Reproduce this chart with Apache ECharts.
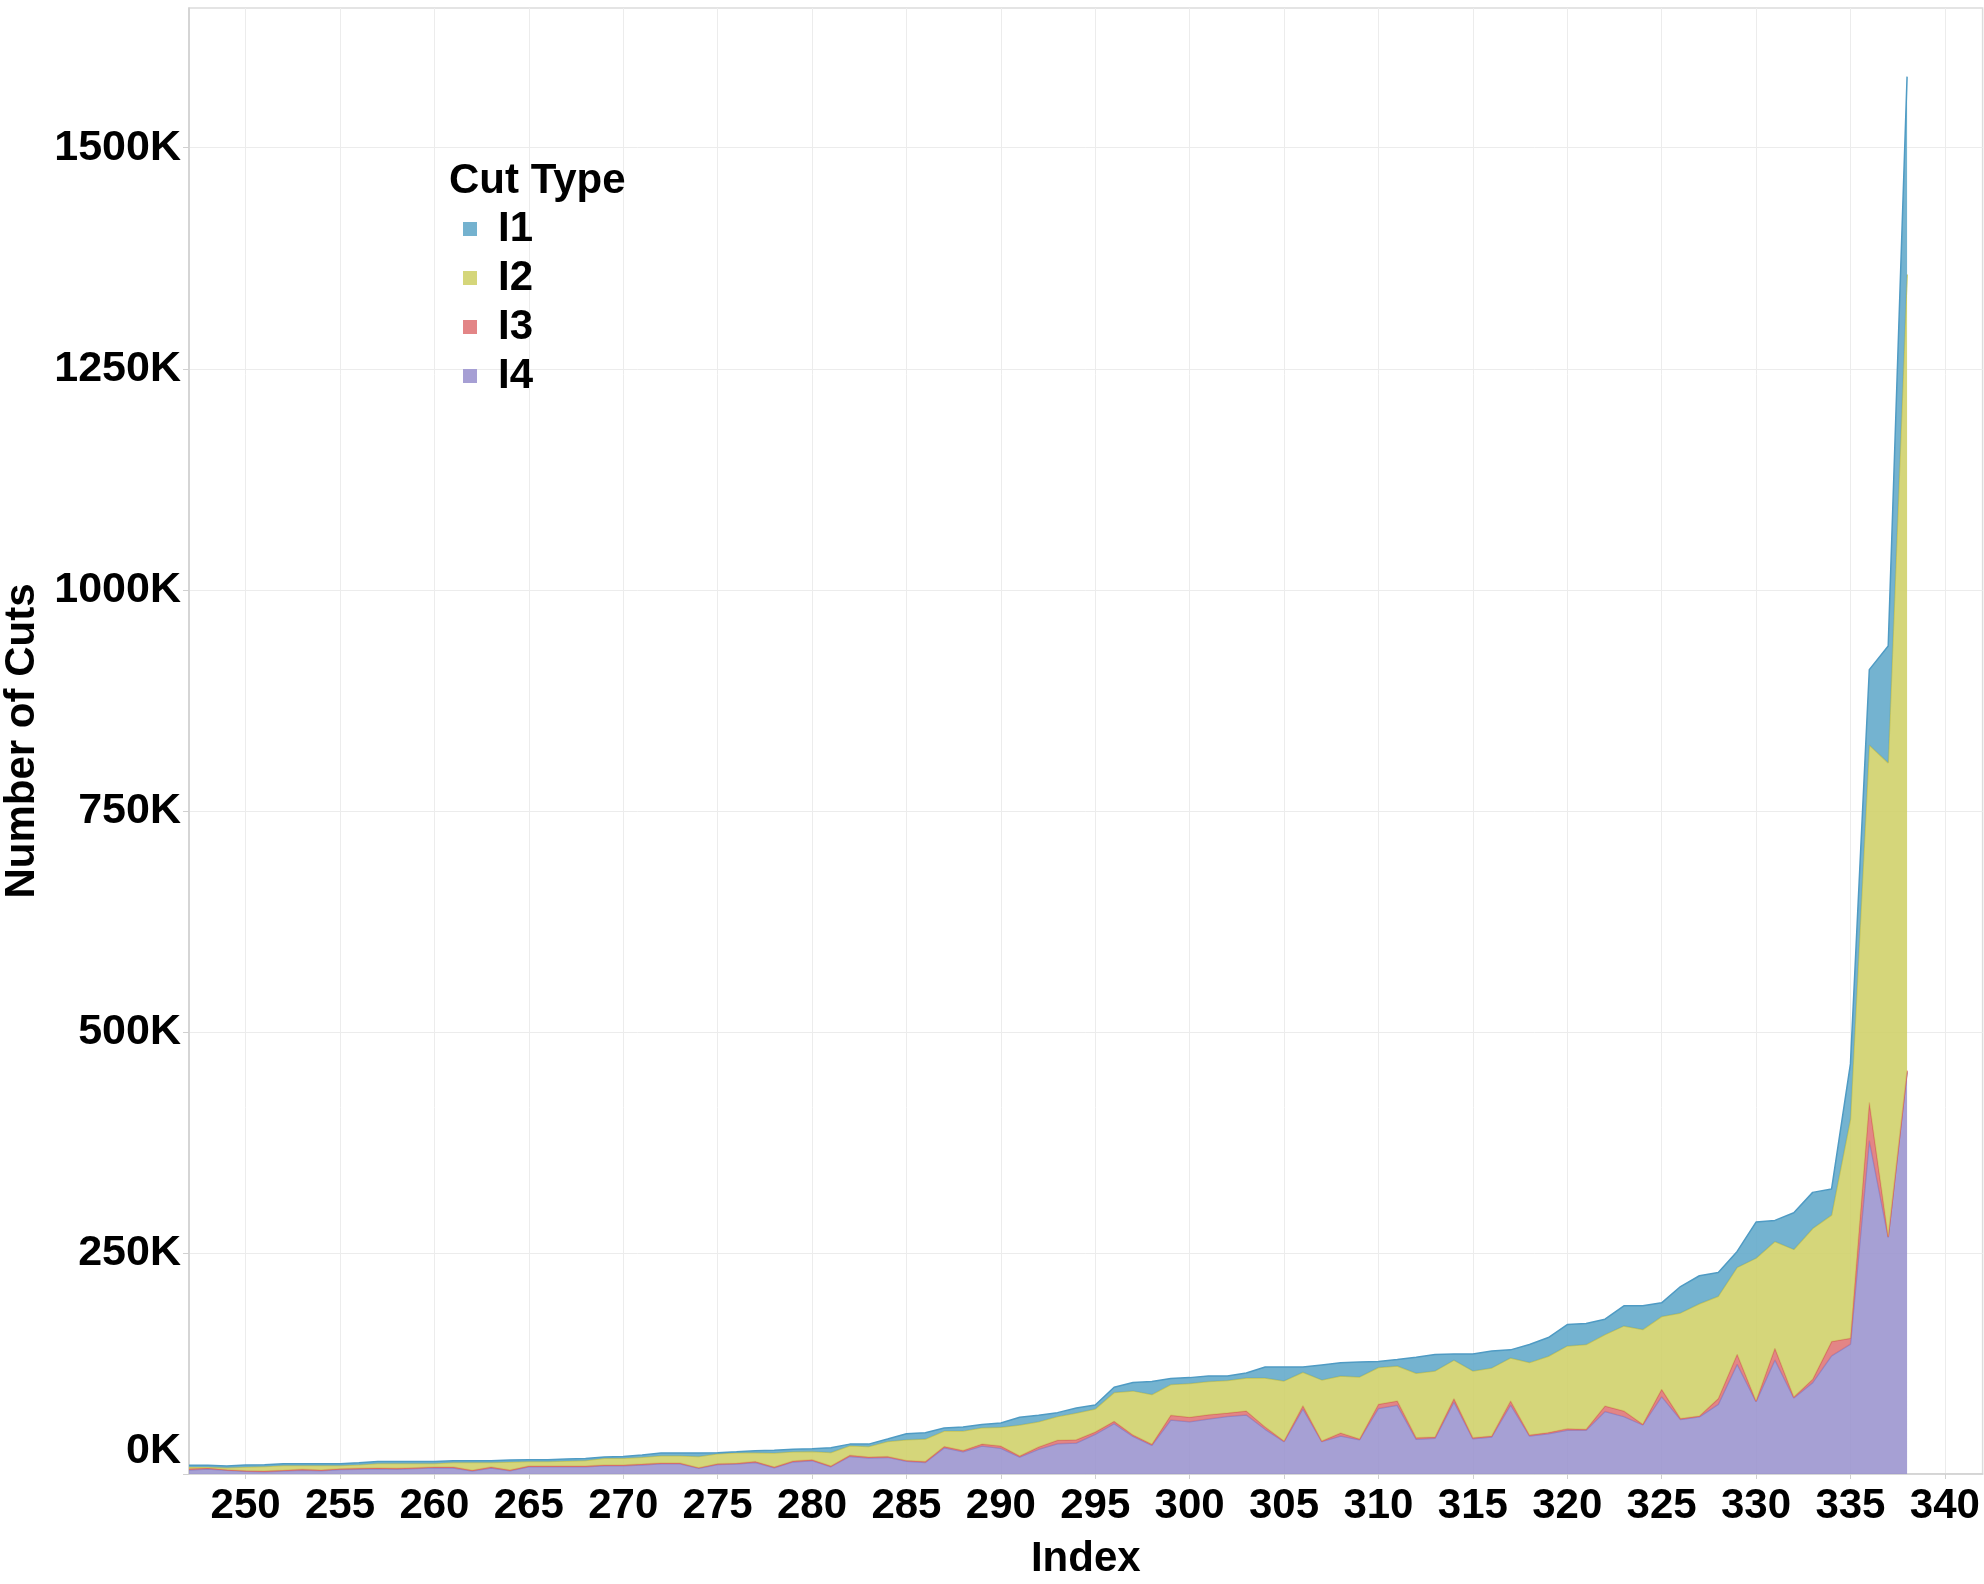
<!DOCTYPE html>
<html>
<head>
<meta charset="utf-8">
<script src="https://cdn.jsdelivr.net/npm/echarts@6/dist/echarts.min.js"></script>
<style>
html,body{margin:0;padding:0;background:#ffffff;}
#chart{width:1984px;height:1584px;}
</style>
</head>
<body>
<div id="chart"></div>
<script>
// Index categories (x); the axis runs on to 342 with no data after 338
const indexValues = ['247','248','249','250','251','252','253','254','255','256','257','258','259','260','261','262','263','264','265','266','267','268','269','270','271','272','273','274','275','276','277','278','279','280','281','282','283','284','285','286','287','288','289','290','291','292','293','294','295','296','297','298','299','300','301','302','303','304','305','306','307','308','309','310','311','312','313','314','315','316','317','318','319','320','321','322','323','324','325','326','327','328','329','330','331','332','333','334','335','336','337','338','339','340','341','342'];

// Number of cuts per type, in thousands (indices 247..338)
const cutsI1 = [1.9,1.9,1.9,2.2,2.1,2.2,2.2,2.2,2.1,2.2,2.2,2.2,2.2,2.1,2.2,2.2,2.1,2.3,2.2,2.2,2.2,2.1,1.5,2.2,2.5,3.0,3.0,3.8,1.1,1.1,2.3,3.3,3.0,3.0,5.3,1.9,2.7,2.7,6.8,7.2,3.5,4.6,3.8,4.9,8.6,7.2,4.5,5.7,4.5,6.0,9.4,14.7,6.8,6.7,6.4,5.2,5.6,12.4,15.8,6.0,17.0,14.8,17.0,6.8,7.3,18.1,18.5,7.1,19.2,19.2,9.1,20.4,21.1,24.1,23.8,17.4,22.7,26.8,15.5,29.8,31.7,26.8,18.1,40.8,23.8,41.5,40.8,29.5,62.3,85.2,132.1,223.8];
const cutsI2 = [1.9,1.1,2.3,4.2,5.1,5.3,4.2,5.0,3.6,4.2,5.0,5.4,4.6,4.0,5.0,8.7,5.1,9.1,4.9,4.9,5.7,6.3,7.5,7.5,7.7,8.2,8.2,12.7,11.2,11.9,10.0,15.8,10.4,9.3,15.3,10.8,11.9,16.9,23.3,25.5,17.4,21.9,18.5,21.2,35.1,28.7,26.8,30.2,26.1,32.5,49.9,56.2,34.7,38.2,37.4,36.7,37.4,55.5,68.0,37.8,69.1,64.5,70.2,41.5,39.5,72.9,74.7,43.4,75.5,77.0,48.7,81.9,86.4,93.6,95.9,80.7,96.2,107.2,82.3,119.4,126.9,115.8,98.1,161.5,120.7,167.0,170.6,143.0,247.9,404.1,536.0,900.4];
const cutsI3 = [1.5,1.1,0.7,0.8,0.8,0.8,1.0,0.9,1.0,0.9,0.9,0.9,0.9,0.9,1.1,0.8,1.0,0.9,0.8,0.8,0.8,0.9,1.0,1.0,1.0,1.0,1.0,0.8,0.9,0.9,1.0,0.8,1.0,1.1,0.8,1.2,1.1,1.1,1.1,1.0,1.5,1.4,2.1,2.5,1.2,2.6,3.8,3.7,2.6,2.6,1.5,1.2,5.3,4.9,4.9,4.1,4.5,2.6,0.7,3.7,0.7,3.4,0.8,4.8,4.9,1.9,1.5,3.8,1.2,1.1,4.5,1.1,1.2,1.9,1.1,6.4,6.4,0.7,8.3,1.3,0.9,6.5,11.4,0.7,13.3,1.0,3.7,16.2,6.8,43.4,0.8,1.8];
const cutsI4 = [4.5,5.7,4.2,3.0,2.6,3.4,4.3,3.6,5.0,5.5,5.9,5.5,6.3,7.0,6.8,3.4,6.9,3.6,8.3,8.3,8.3,8.2,9.2,9.2,10.3,11.5,11.5,6.4,10.8,11.2,13.0,7.1,13.7,15.1,8.3,19.9,18.1,18.8,14.3,13.0,29.6,25.2,31.7,29.1,19.2,27.9,34.3,35.1,44.9,57.0,42.6,32.4,61.1,59.2,62.2,64.9,66.8,50.6,36.6,73.6,36.6,43.0,38.8,74.1,77.7,39.2,40.4,81.5,39.9,41.9,78.1,43.0,45.6,49.4,49.4,70.6,64.9,55.5,87.5,61.5,64.7,78.8,124.1,81.9,129.0,86.0,103.4,133.6,146.8,377.0,267.5,454.4];

// Tick labels
const xTickValues = ['250','255','260','265','270','275','280','285','290','295','300','305','310','315','320','325','330','335','340'];
const yTickValues = [0,250,500,750,1000,1250,1500];

const seriesNames = ['I1','I2','I3','I4'];

const FONT = '"Liberation Sans", Arial, sans-serif';
const txt = {fontFamily: FONT, fontSize: 42, fontWeight: 'bold', color: '#000'};
const ytxt = {fontFamily: FONT, fontSize: 43, fontWeight: 'bold', color: '#000'};

function onTick(idx, val){ return xTickValues.indexOf(String(val)) >= 0; }

function makeSeries(name, vals, shown, base, line, z){
  return {
    name: name, type: 'line', stack: 'cuts', symbol: 'none', showSymbol: false,
    data: vals,
    lineStyle: {color: line, width: 1.5},
    itemStyle: {color: shown},
    areaStyle: {color: base, opacity: 0.88},
    emphasis: {disabled: true},
    z: z
  };
}

const chart = echarts.init(document.getElementById('chart'), null, {renderer: 'canvas'});
chart.setOption({
  animation: false,
  backgroundColor: '#ffffff',
  title: {
    text: 'Cut Type', left: 449, top: 160, padding: 0,
    textStyle: Object.assign({}, txt)
  },
  legend: {
    data: seriesNames, orient: 'vertical', left: 463, top: 208, padding: 0,
    icon: 'rect', itemWidth: 14, itemHeight: 14, itemGap: 7,
    itemStyle: {borderWidth: 0},
    textStyle: Object.assign({padding: [0,0,0,16]}, txt)
  },
  grid: {
    left: 189, right: 1.4, top: 8, bottom: 110, containLabel: false,
    outerBoundsMode: 'none',
    show: true, borderColor: '#dcdcdc', borderWidth: 1.5, backgroundColor: 'transparent'
  },
  xAxis: {
    type: 'category', data: indexValues, boundaryGap: false,
    name: 'Index', nameLocation: 'middle', nameGap: 64,
    nameTextStyle: Object.assign({}, txt),
    axisLine: {show: true, lineStyle: {color: '#d0d0d0', width: 1.5}},
    axisTick: {show: true, interval: onTick, length: 5, lineStyle: {color: '#d0d0d0'}},
    axisLabel: Object.assign({interval: onTick, margin: 11, hideOverlap: false}, txt),
    splitLine: {show: true, interval: onTick, lineStyle: {color: '#ececec', width: 1}}
  },
  yAxis: {
    type: 'value', min: 0, max: 1658, interval: 250,
    name: 'Number of Cuts', nameLocation: 'middle', nameGap: 137,
    nameTextStyle: Object.assign({}, txt),
    axisLine: {show: true, lineStyle: {color: '#d0d0d0', width: 1.5}},
    axisTick: {show: true, customValues: yTickValues, length: 6, lineStyle: {color: '#d0d0d0'}},
    axisLabel: Object.assign({
      customValues: yTickValues, margin: 8,
      formatter: function(v){ return v === 0 ? '{z|0K}' : '{n|' + v + 'K}'; },
      rich: {
        z: Object.assign({padding: [0,0,46,0]}, ytxt),
        n: Object.assign({}, ytxt)
      }
    }, ytxt),
    splitLine: {show: true, lineStyle: {color: '#ececec', width: 1}}
  },
  series: [
    makeSeries('I4', cutsI4, '#A69FD4', '#9A93CE', '#8f84c6', 4),
    makeSeries('I3', cutsI3, '#E38586', '#DF7475', '#d86a62', 5),
    makeSeries('I2', cutsI2, '#D5D67A', '#CFD068', '#c3c35a', 6),
    makeSeries('I1', cutsI1, '#74B2CF', '#61A8C9', '#4f9bc4', 7)
  ]
});
</script>
</body>
</html>
